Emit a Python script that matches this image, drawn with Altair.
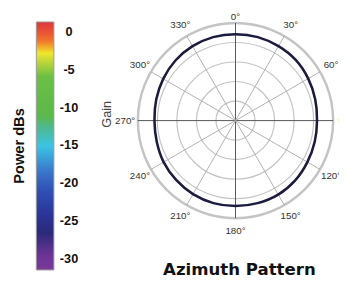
import altair as alt
import pandas as pd

# ---- colour bar ----
cb_ticks = [0, -5, -10, -15, -20, -25, -30]
cb_range = [-31.55, 1.29]
cb_colors = ["#e0353d", "#ea5a33", "#f07d2c", "#f1e52e", "#b8d43a", "#6cbf45",
             "#5bb84a", "#50b88a", "#3cc4e4", "#3a78cc", "#3050b4", "#2a3496",
             "#2c2a7a", "#6a3496", "#7a3a98"]
cb_offsets = [0.0, 0.05, 0.08, 0.126, 0.165, 0.22, 0.38, 0.42, 0.5, 0.6, 0.68,
              0.78, 0.85, 0.94, 1.0]

# ---- polar chart ----
rings = [20, 40, 60, 80, 100]
spokes = list(range(0, 360, 30))
pattern_angle = list(range(0, 360, 15))
pattern_gain = [88.5, 88.5, 88, 87.5, 86, 84.5, 83.5, 84, 85, 86.5, 87.5, 87.5,
                87.5, 87.5, 87, 86, 85, 83.5, 83, 84, 85.5, 87, 88, 88.5]

grad = alt.Gradient(
    gradient="linear",
    stops=[alt.GradientStop(color=c, offset=o) for c, o in zip(cb_colors, cb_offsets)],
    x1=0, x2=0, y1=0, y2=1,
)

sans = "Liberation Sans, Arial, sans-serif"

colorbar = alt.Chart(pd.DataFrame({"lo": [cb_range[0]], "hi": [cb_range[1]]})).mark_rect(
    fill=grad, stroke="#9a9a9a", strokeWidth=1
).encode(
    y=alt.Y("lo:Q", scale=alt.Scale(domain=cb_range, nice=False, zero=False),
            axis=alt.Axis(orient="right", values=cb_ticks, title=None, domain=False,
                          ticks=False, grid=False, labelPadding=15, labelAlign="center",
                          labelExpr="'' + datum.value",
                          labelFont=sans, labelFontWeight="bold", labelFontSize=13,
                          labelColor="#111")),
    y2="hi:Q",
).properties(
    width=18, height=254,
    title=alt.TitleParams("Power dBs", orient="left", anchor="middle", offset=9,
                          font=sans, fontWeight="bold", fontSize=15, color="#111"),
)

xs = alt.Scale(domain=[-125, 125], nice=False, zero=False)
ys = alt.Scale(domain=[-115, 101], nice=False, zero=False)
noaxis = alt.Axis(labels=False, ticks=False, domain=False, grid=False, title=None)
yaxis = alt.Axis(labels=False, ticks=False, domain=False, grid=False,
                 title="Gain", titleFont=sans, titleFontWeight="normal", titleFontSize=13,
                 titleColor="#444", titlePadding=0, titleY=94)

ring_layer = alt.Chart(pd.DataFrame({"r": rings})).transform_calculate(
    cx="0", cy="0"
).mark_point(shape="circle", filled=False, opacity=1, stroke="#c4c4c4").encode(
    x=alt.X("cx:Q", scale=xs, axis=noaxis),
    y=alt.Y("cy:Q", scale=ys, axis=yaxis),
    size=alt.Size("r:Q", scale=alt.Scale(type="pow", exponent=2, domain=[0, 100],
                                          range=[0, 40000]), legend=None),
    strokeWidth=alt.condition("datum.r == 100", alt.value(2.5), alt.value(1.2)),
)

spoke_layer = alt.Chart(pd.DataFrame({"a": spokes})).transform_calculate(
    x0="0", y0="0",
    x1="100*sin(datum.a*PI/180)", y1="100*cos(datum.a*PI/180)",
).mark_rule(strokeWidth=1).encode(
    x=alt.X("x0:Q", scale=xs, axis=noaxis), y=alt.Y("y0:Q", scale=ys, axis=yaxis),
    x2="x1:Q", y2="y1:Q",
    color=alt.condition("datum.a % 90 == 0", alt.value("#555555"), alt.value("#b0b0b0")),
)

pattern_layer = alt.Chart(pd.DataFrame({"a": pattern_angle, "g": pattern_gain})).transform_calculate(
    px="datum.g*sin(datum.a*PI/180)", py="datum.g*cos(datum.a*PI/180)",
).mark_line(interpolate="cardinal-closed", color="#1b1b3e", strokeWidth=2.6).encode(
    x=alt.X("px:Q", scale=xs, axis=noaxis), y=alt.Y("py:Q", scale=ys, axis=yaxis),
    order="a:Q",
)

lab_df = pd.DataFrame({"a": spokes})
label_layer = alt.Chart(lab_df).transform_filter("datum.a != 0").transform_calculate(
    lx="113*sin(datum.a*PI/180)", ly="113*cos(datum.a*PI/180)",
    t="datum.a + '°'",
).mark_text(fontSize=10, color="#333", font=sans).encode(
    x=alt.X("lx:Q", scale=xs, axis=noaxis), y=alt.Y("ly:Q", scale=ys, axis=yaxis),
    text="t:N",
)
zero_layer = alt.Chart(lab_df).transform_filter("datum.a == 0").transform_calculate(
    lx="113*sin(datum.a*PI/180)", ly="113*cos(datum.a*PI/180)",
    t="datum.a + '°'",
).mark_text(fontSize=10, color="#333", font=sans, dy=7).encode(
    x=alt.X("lx:Q", scale=xs, axis=noaxis), y=alt.Y("ly:Q", scale=ys, axis=yaxis),
    text="t:N",
)

polar = alt.layer(ring_layer, spoke_layer, pattern_layer, label_layer, zero_layer).properties(
    width=250, height=216,
    title=alt.TitleParams("Azimuth Pattern", orient="bottom", anchor="middle", frame="group",
                          font="DejaVu Sans", fontWeight="bold", fontSize=17, color="#111",
                          offset=27, dx=4),
)

chart = alt.hconcat(colorbar, polar, spacing=23).properties(
    padding={"left": 4, "top": 0, "right": -19, "bottom": 0},
    background="white",
).configure_view(stroke=None)

chart.save("out.html", embed_options={"renderer": "svg", "actions": False})
